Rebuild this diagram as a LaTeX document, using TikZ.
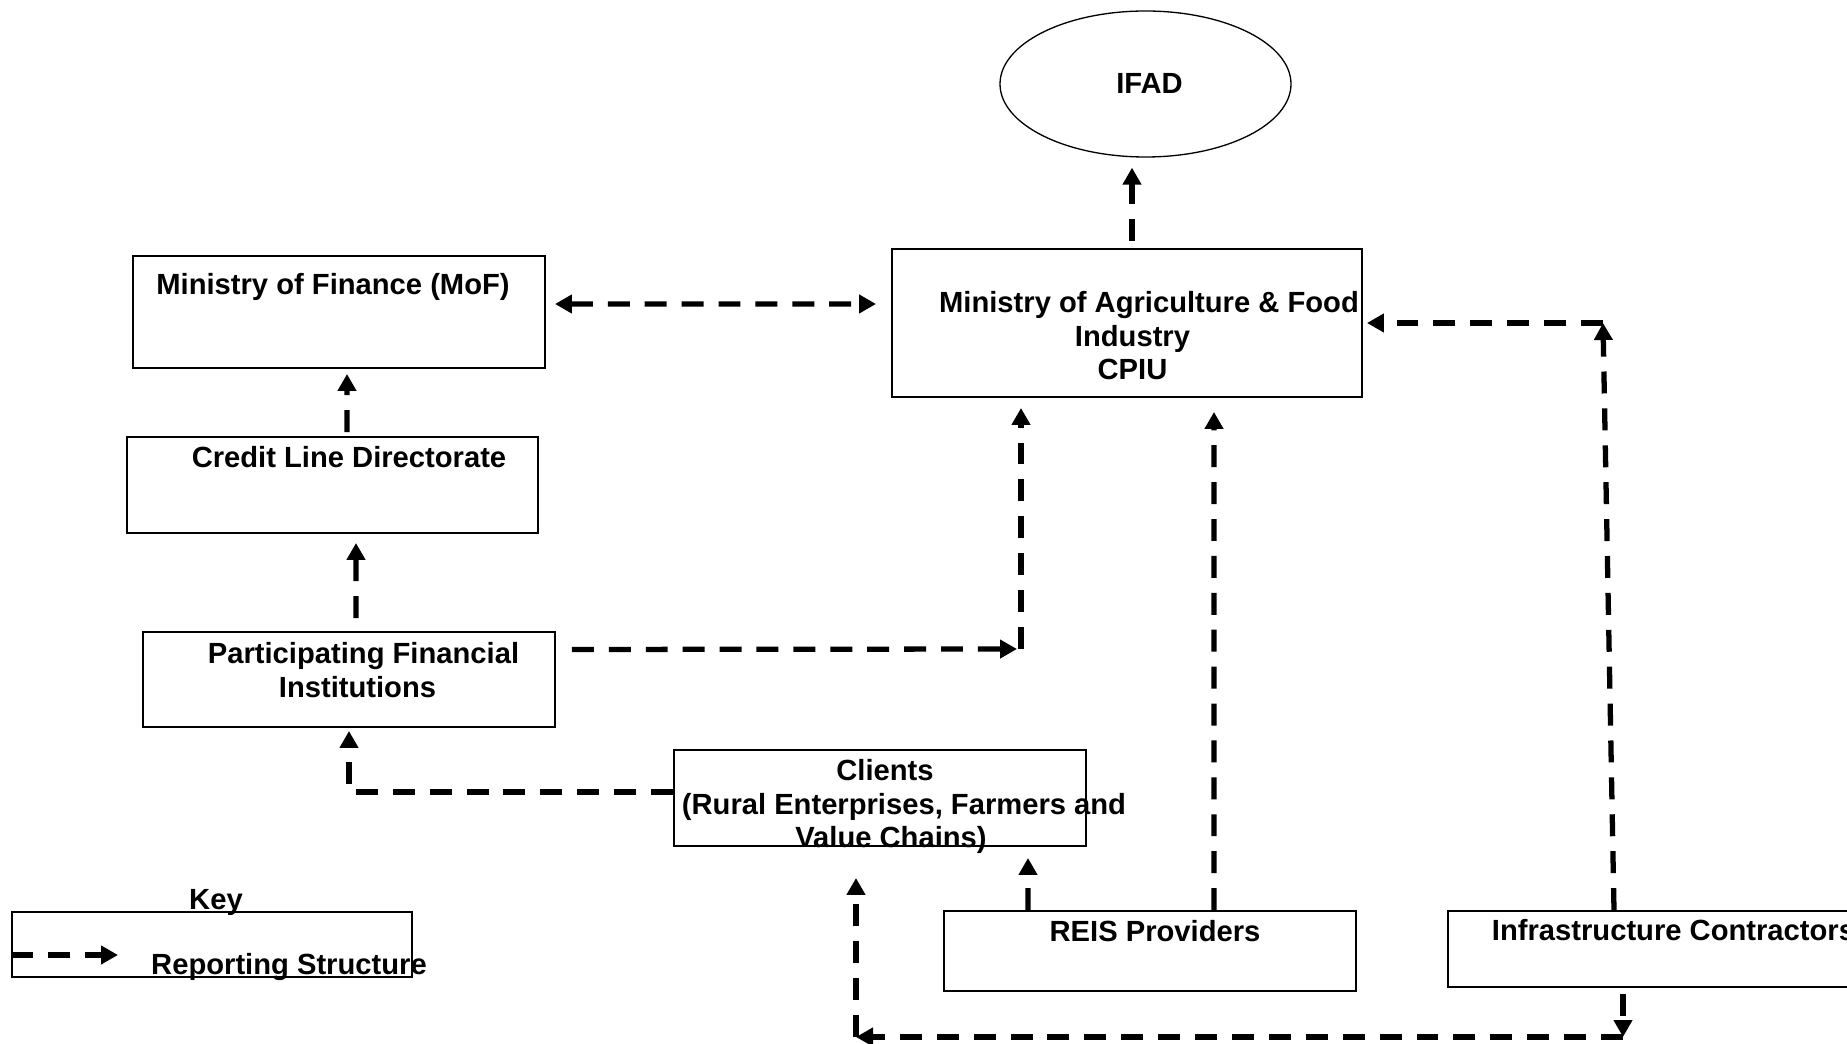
\documentclass[tikz,border=0pt]{standalone}
\usepackage{fontspec}
\setmainfont{Liberation Sans}
\usetikzlibrary{arrows.meta,shapes.geometric}
\tikzset{
  orgbox/.style={draw, line width=1.1pt, inner sep=0pt},
  boxtext/.style={font=\fontsize{16.6}{19.1}\selectfont\bfseries, align=center, inner sep=0pt},
  report/.style={line width=3pt, dash pattern=on 12.5pt off 8.5pt,
    -{Triangle[length=0.34cm,width=0.36cm]}},
  reportboth/.style={report, {Triangle[length=0.34cm,width=0.36cm]}-{Triangle[length=0.34cm,width=0.36cm]}},
}
\begin{document}
\begin{tikzpicture}
  \useasboundingbox (0,0) rectangle (36.94,-20.88);

  \node[draw, ellipse, line width=0.75pt, minimum width=5.82cm, minimum height=2.92cm] (ifad) at (22.91,-1.68) {};
  \node[boxtext] (ifadtxt) at (22.99,-1.66) {IFAD};
  \node[orgbox, minimum width=9.40cm, minimum height=2.96cm] (mafi) at (22.54,-6.46) {};
  \node[boxtext] (mafitxt) at (22.65,-6.72) {\hspace*{0.66cm}Ministry of Agriculture \& Food\\Industry\\CPIU};

  \node[orgbox, minimum width=8.24cm, minimum height=2.24cm] (mof) at (6.78,-6.24) {};
  \node[boxtext] (moftxt) at (6.66,-5.73) {Ministry of Finance (MoF)};
  \node[orgbox, minimum width=8.22cm, minimum height=1.92cm] (cld) at (6.65,-9.70) {};
  \node[boxtext] (cldtxt) at (6.98,-9.14) {Credit Line Directorate};
  \node[orgbox, minimum width=8.24cm, minimum height=1.90cm] (pfi) at (6.98,-13.59) {};
  \node[boxtext] (pfitxt) at (7.27,-13.40) {Participating Financial\\Institutions\hspace*{0.24cm}};

  \node[orgbox, minimum width=8.24cm, minimum height=1.92cm] (clients) at (17.60,-15.96) {};
  \node[boxtext] (clientstxt) at (18.08,-16.13) {Clients\hspace*{0.76cm}\\(Rural Enterprises, Farmers and\\Value Chains)\hspace*{0.52cm}};
  \node[orgbox, minimum width=8.24cm, minimum height=1.60cm] (reis) at (23.00,-19.02) {};
  \node[boxtext] (reistxt) at (23.10,-18.62) {REIS Providers};
  \node[orgbox, minimum width=8.24cm, minimum height=1.52cm] (infra) at (33.08,-18.98) {};
  \node[boxtext] (infratxt) at (33.47,-18.61) {Infrastructure Contractors};

  \node[orgbox, minimum width=8.0cm, minimum height=1.30cm] (key) at (4.24,-18.89) {};
  \node[boxtext] (keytxt) at (4.32,-18.04) {Key};
  \node[boxtext] (keyitem) at (5.78,-19.34) {Reporting Structure};

  \coordinate (c1) at (20.42,-12.98);
  \coordinate (c3) at (32.06,-6.46);
  \coordinate (c4) at (32.46,-20.74);
  \coordinate (c5) at (17.12,-20.74);
  \coordinate (keyend) at (2.36,-19.10);

  \draw[report, shorten <=0.14cm, shorten >=0.20cm] ([xshift=0.10cm]mafi.north) -- ([xshift=-0.27cm]ifad.south);
  \draw[reportboth, shorten <=0.18cm, shorten >=0.30cm] ([yshift=0.16cm]mof.east) -- ([yshift=0.38cm]mafi.west);
  \draw[report, shorten <=0.08cm, shorten >=0.10cm] ([xshift=0.29cm]cld.north) -- ([xshift=0.16cm]mof.south);
  \draw[report, shorten <=0.26cm, shorten >=0.18cm] ([xshift=0.14cm]pfi.north) -- ([xshift=0.47cm]cld.south);
  \draw[report, shorten <=0.32cm, shorten >=0.08cm] ([yshift=0.60cm]pfi.east) -- (c1);
  \draw[report, shorten >=0.20cm] (c1) -- (mafi.south -| c1);
  \draw[report, shorten >=0.06cm] ([yshift=0.12cm]clients.west) -| (pfi.south);
  \draw[report, shorten >=0.22cm] ([xshift=-2.44cm]reis.north) -- ([xshift=2.96cm]clients.south);
  \draw[report, shorten >=0.28cm] ([xshift=1.28cm]reis.north) -- ([xshift=1.74cm]mafi.south);
  \draw[report] ([xshift=-0.80cm]infra.north) -- (c3);
  \draw[report, shorten >=0.08cm] (c3) -- (mafi.east);
  \draw[report, shorten <=0.12cm] ([xshift=-0.62cm]infra.south) -- (c4);
  \draw[report] (c4) -- (c5);
  \draw[report, shorten >=0.62cm] (c5) -- (clients.south -| c5);
  \draw[report] ([yshift=-0.21cm]key.west) -- (keyend);
\end{tikzpicture}
\end{document}
